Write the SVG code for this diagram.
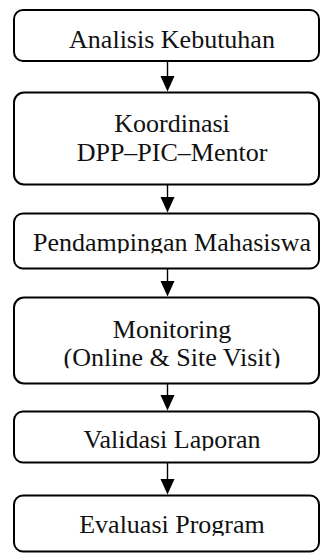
<svg xmlns="http://www.w3.org/2000/svg" width="321" height="558" viewBox="0 0 321 558">
<style>
.box{fill:#fff;stroke:#000;stroke-width:2}
.lbl{font-family:"Liberation Serif","Times New Roman",serif;font-size:26px;fill:#111;text-anchor:middle}
.edge{stroke:#000;stroke-width:1.4;fill:none}
.head{fill:#000}
</style>
<defs>
<clipPath id="c1"><rect x="0" y="0" width="321" height="50"/></clipPath>
<clipPath id="c3"><rect x="0" y="200" width="321" height="53.2"/></clipPath>
<clipPath id="c4"><rect x="0" y="290" width="321" height="78.2"/></clipPath>
<clipPath id="c5"><rect x="0" y="400" width="321" height="50.8"/></clipPath>
<clipPath id="c6"><rect x="0" y="490" width="321" height="45.8"/></clipPath>
</defs>
<g id="connectors">
<line class="edge" x1="167.5" y1="61" x2="167.5" y2="78"/><polygon class="head" points="160.5,76 174.5,76 167.5,91.5"/>
<line class="edge" x1="167.5" y1="185" x2="167.5" y2="199"/><polygon class="head" points="160.5,197 174.5,197 167.5,212.5"/>
<line class="edge" x1="167.5" y1="269" x2="167.5" y2="283"/><polygon class="head" points="160.5,281 174.5,281 167.5,296.5"/>
<line class="edge" x1="167.5" y1="384" x2="167.5" y2="397"/><polygon class="head" points="160.5,395 174.5,395 167.5,410.5"/>
<line class="edge" x1="167.5" y1="463" x2="167.5" y2="481"/><polygon class="head" points="160.5,479 174.5,479 167.5,494.5"/>
</g>
<g id="n1"><rect class="box" x="14" y="10" width="305" height="51" rx="9"/><text class="lbl" x="172" y="47.5" clip-path="url(#c1)">Analisis Kebutuhan</text></g>
<g id="n2"><rect class="box" x="14" y="92.5" width="305" height="92" rx="10"/><text class="lbl" x="172" y="132.3">Koordinasi</text><text class="lbl" x="172" y="161">DPP–PIC–Mentor</text></g>
<g id="n3"><rect class="box" x="14" y="213.5" width="305" height="55" rx="9"/><text class="lbl" x="172" y="250.7" clip-path="url(#c3)">Pendampingan Mahasiswa</text></g>
<g id="n4"><rect class="box" x="14" y="297.5" width="305" height="86" rx="10"/><text class="lbl" x="172" y="338.3">Monitoring</text><text class="lbl" x="172" y="365.7" clip-path="url(#c4)">(Online &amp; Site Visit)</text></g>
<g id="n5"><rect class="box" x="14" y="411.5" width="305" height="51" rx="9"/><text class="lbl" x="172" y="448.3" clip-path="url(#c5)">Validasi Laporan</text></g>
<g id="n6"><rect class="box" x="14" y="495.5" width="305" height="56" rx="9"/><text class="lbl" x="172" y="533.3" clip-path="url(#c6)">Evaluasi Program</text></g>
</svg>
